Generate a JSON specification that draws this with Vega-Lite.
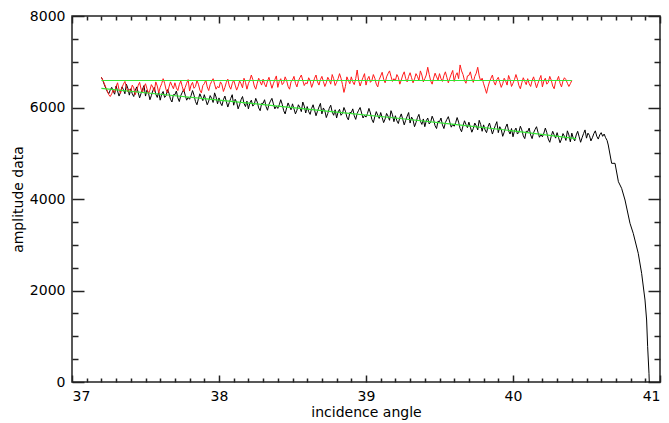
{
  "$schema": "https://vega.github.io/schema/vega-lite/v6.json",
  "width": 588,
  "height": 366,
  "autosize": {"type": "none"},
  "padding": {"left": 72, "top": 16, "right": 9, "bottom": 41},
  "background": "white",
  "config": {"view": {"stroke": "#222222", "strokeWidth": 1.5}},
  "data": {"values": [
      {"series":"black","x":37.20,"y":6660},{"series":"black","x":37.21,"y":6590},{"series":"black","x":37.22,"y":6500},{"series":"black","x":37.23,"y":6420},{"series":"black","x":37.24,"y":6350},{"series":"black","x":37.25,"y":6300},{"series":"black","x":37.26,"y":6380},{"series":"black","x":37.27,"y":6440},{"series":"black","x":37.28,"y":6360},{"series":"black","x":37.29,"y":6290},
      {"series":"black","x":37.30,"y":6470},{"series":"black","x":37.31,"y":6360},{"series":"black","x":37.32,"y":6250},{"series":"black","x":37.33,"y":6330},{"series":"black","x":37.34,"y":6450},{"series":"black","x":37.35,"y":6390},{"series":"black","x":37.36,"y":6300},{"series":"black","x":37.37,"y":6510},{"series":"black","x":37.38,"y":6420},{"series":"black","x":37.39,"y":6270},
      {"series":"black","x":37.40,"y":6410},{"series":"black","x":37.41,"y":6300},{"series":"black","x":37.42,"y":6240},{"series":"black","x":37.43,"y":6370},{"series":"black","x":37.44,"y":6450},{"series":"black","x":37.45,"y":6330},{"series":"black","x":37.46,"y":6210},{"series":"black","x":37.47,"y":6310},{"series":"black","x":37.48,"y":6400},{"series":"black","x":37.49,"y":6480},
      {"series":"black","x":37.50,"y":6250},{"series":"black","x":37.51,"y":6380},{"series":"black","x":37.52,"y":6320},{"series":"black","x":37.53,"y":6170},{"series":"black","x":37.54,"y":6260},{"series":"black","x":37.55,"y":6370},{"series":"black","x":37.56,"y":6440},{"series":"black","x":37.57,"y":6290},{"series":"black","x":37.58,"y":6220},{"series":"black","x":37.59,"y":6340},
      {"series":"black","x":37.60,"y":6160},{"series":"black","x":37.61,"y":6290},{"series":"black","x":37.62,"y":6350},{"series":"black","x":37.63,"y":6220},{"series":"black","x":37.64,"y":6260},{"series":"black","x":37.65,"y":6390},{"series":"black","x":37.66,"y":6310},{"series":"black","x":37.67,"y":6180},{"series":"black","x":37.68,"y":6120},{"series":"black","x":37.69,"y":6280},
      {"series":"black","x":37.70,"y":6280},{"series":"black","x":37.71,"y":6360},{"series":"black","x":37.72,"y":6210},{"series":"black","x":37.73,"y":6130},{"series":"black","x":37.74,"y":6260},{"series":"black","x":37.75,"y":6330},{"series":"black","x":37.76,"y":6390},{"series":"black","x":37.77,"y":6270},{"series":"black","x":37.78,"y":6160},{"series":"black","x":37.79,"y":6220},
      {"series":"black","x":37.80,"y":6180},{"series":"black","x":37.81,"y":6260},{"series":"black","x":37.82,"y":6370},{"series":"black","x":37.83,"y":6270},{"series":"black","x":37.84,"y":6130},{"series":"black","x":37.85,"y":6060},{"series":"black","x":37.86,"y":6190},{"series":"black","x":37.87,"y":6300},{"series":"black","x":37.88,"y":6220},{"series":"black","x":37.89,"y":6150},
      {"series":"black","x":37.90,"y":6280},{"series":"black","x":37.91,"y":6170},{"series":"black","x":37.92,"y":6060},{"series":"black","x":37.93,"y":6140},{"series":"black","x":37.94,"y":6260},{"series":"black","x":37.95,"y":6200},{"series":"black","x":37.96,"y":6110},{"series":"black","x":37.97,"y":6320},{"series":"black","x":37.98,"y":6230},{"series":"black","x":37.99,"y":6080},
      {"series":"black","x":38.00,"y":6210},{"series":"black","x":38.01,"y":6100},{"series":"black","x":38.02,"y":6040},{"series":"black","x":38.03,"y":6170},{"series":"black","x":38.04,"y":6250},{"series":"black","x":38.05,"y":6130},{"series":"black","x":38.06,"y":6010},{"series":"black","x":38.07,"y":6110},{"series":"black","x":38.08,"y":6200},{"series":"black","x":38.09,"y":6280},
      {"series":"black","x":38.10,"y":6050},{"series":"black","x":38.11,"y":6180},{"series":"black","x":38.12,"y":6120},{"series":"black","x":38.13,"y":5970},{"series":"black","x":38.14,"y":6060},{"series":"black","x":38.15,"y":6170},{"series":"black","x":38.16,"y":6240},{"series":"black","x":38.17,"y":6090},{"series":"black","x":38.18,"y":6020},{"series":"black","x":38.19,"y":6140},
      {"series":"black","x":38.20,"y":5970},{"series":"black","x":38.21,"y":6100},{"series":"black","x":38.22,"y":6160},{"series":"black","x":38.23,"y":6030},{"series":"black","x":38.24,"y":6070},{"series":"black","x":38.25,"y":6200},{"series":"black","x":38.26,"y":6120},{"series":"black","x":38.27,"y":5990},{"series":"black","x":38.28,"y":5930},{"series":"black","x":38.29,"y":6090},
      {"series":"black","x":38.30,"y":6090},{"series":"black","x":38.31,"y":6170},{"series":"black","x":38.32,"y":6020},{"series":"black","x":38.33,"y":5940},{"series":"black","x":38.34,"y":6070},{"series":"black","x":38.35,"y":6140},{"series":"black","x":38.36,"y":6200},{"series":"black","x":38.37,"y":6080},{"series":"black","x":38.38,"y":5970},{"series":"black","x":38.39,"y":6030},
      {"series":"black","x":38.40,"y":5980},{"series":"black","x":38.41,"y":6060},{"series":"black","x":38.42,"y":6170},{"series":"black","x":38.43,"y":6070},{"series":"black","x":38.44,"y":5930},{"series":"black","x":38.45,"y":5860},{"series":"black","x":38.46,"y":5990},{"series":"black","x":38.47,"y":6100},{"series":"black","x":38.48,"y":6020},{"series":"black","x":38.49,"y":5950},
      {"series":"black","x":38.50,"y":6080},{"series":"black","x":38.51,"y":5970},{"series":"black","x":38.52,"y":5860},{"series":"black","x":38.53,"y":5940},{"series":"black","x":38.54,"y":6060},{"series":"black","x":38.55,"y":6000},{"series":"black","x":38.56,"y":5910},{"series":"black","x":38.57,"y":6120},{"series":"black","x":38.58,"y":6030},{"series":"black","x":38.59,"y":5880},
      {"series":"black","x":38.60,"y":6020},{"series":"black","x":38.61,"y":5910},{"series":"black","x":38.62,"y":5850},{"series":"black","x":38.63,"y":5980},{"series":"black","x":38.64,"y":6060},{"series":"black","x":38.65,"y":5940},{"series":"black","x":38.66,"y":5820},{"series":"black","x":38.67,"y":5920},{"series":"black","x":38.68,"y":6010},{"series":"black","x":38.69,"y":6090},
      {"series":"black","x":38.70,"y":5860},{"series":"black","x":38.71,"y":5990},{"series":"black","x":38.72,"y":5930},{"series":"black","x":38.73,"y":5780},{"series":"black","x":38.74,"y":5870},{"series":"black","x":38.75,"y":5980},{"series":"black","x":38.76,"y":6050},{"series":"black","x":38.77,"y":5900},{"series":"black","x":38.78,"y":5830},{"series":"black","x":38.79,"y":5950},
      {"series":"black","x":38.80,"y":5770},{"series":"black","x":38.81,"y":5900},{"series":"black","x":38.82,"y":5960},{"series":"black","x":38.83,"y":5830},{"series":"black","x":38.84,"y":5870},{"series":"black","x":38.85,"y":6000},{"series":"black","x":38.86,"y":5920},{"series":"black","x":38.87,"y":5790},{"series":"black","x":38.88,"y":5730},{"series":"black","x":38.89,"y":5890},
      {"series":"black","x":38.90,"y":5890},{"series":"black","x":38.91,"y":5970},{"series":"black","x":38.92,"y":5820},{"series":"black","x":38.93,"y":5740},{"series":"black","x":38.94,"y":5870},{"series":"black","x":38.95,"y":5940},{"series":"black","x":38.96,"y":6000},{"series":"black","x":38.97,"y":5880},{"series":"black","x":38.98,"y":5770},{"series":"black","x":38.99,"y":5830},
      {"series":"black","x":39.00,"y":5790},{"series":"black","x":39.01,"y":5870},{"series":"black","x":39.02,"y":5980},{"series":"black","x":39.03,"y":5880},{"series":"black","x":39.04,"y":5740},{"series":"black","x":39.05,"y":5670},{"series":"black","x":39.06,"y":5800},{"series":"black","x":39.07,"y":5910},{"series":"black","x":39.08,"y":5830},{"series":"black","x":39.09,"y":5760},
      {"series":"black","x":39.10,"y":5890},{"series":"black","x":39.11,"y":5780},{"series":"black","x":39.12,"y":5670},{"series":"black","x":39.13,"y":5750},{"series":"black","x":39.14,"y":5870},{"series":"black","x":39.15,"y":5810},{"series":"black","x":39.16,"y":5720},{"series":"black","x":39.17,"y":5930},{"series":"black","x":39.18,"y":5840},{"series":"black","x":39.19,"y":5690},
      {"series":"black","x":39.20,"y":5820},{"series":"black","x":39.21,"y":5710},{"series":"black","x":39.22,"y":5650},{"series":"black","x":39.23,"y":5780},{"series":"black","x":39.24,"y":5860},{"series":"black","x":39.25,"y":5740},{"series":"black","x":39.26,"y":5620},{"series":"black","x":39.27,"y":5720},{"series":"black","x":39.28,"y":5810},{"series":"black","x":39.29,"y":5890},
      {"series":"black","x":39.30,"y":5660},{"series":"black","x":39.31,"y":5790},{"series":"black","x":39.32,"y":5730},{"series":"black","x":39.33,"y":5580},{"series":"black","x":39.34,"y":5670},{"series":"black","x":39.35,"y":5780},{"series":"black","x":39.36,"y":5850},{"series":"black","x":39.37,"y":5700},{"series":"black","x":39.38,"y":5630},{"series":"black","x":39.39,"y":5750},
      {"series":"black","x":39.40,"y":5580},{"series":"black","x":39.41,"y":5710},{"series":"black","x":39.42,"y":5770},{"series":"black","x":39.43,"y":5640},{"series":"black","x":39.44,"y":5680},{"series":"black","x":39.45,"y":5810},{"series":"black","x":39.46,"y":5730},{"series":"black","x":39.47,"y":5600},{"series":"black","x":39.48,"y":5540},{"series":"black","x":39.49,"y":5700},
      {"series":"black","x":39.50,"y":5690},{"series":"black","x":39.51,"y":5770},{"series":"black","x":39.52,"y":5620},{"series":"black","x":39.53,"y":5540},{"series":"black","x":39.54,"y":5670},{"series":"black","x":39.55,"y":5740},{"series":"black","x":39.56,"y":5800},{"series":"black","x":39.57,"y":5680},{"series":"black","x":39.58,"y":5570},{"series":"black","x":39.59,"y":5630},
      {"series":"black","x":39.60,"y":5590},{"series":"black","x":39.61,"y":5670},{"series":"black","x":39.62,"y":5780},{"series":"black","x":39.63,"y":5680},{"series":"black","x":39.64,"y":5540},{"series":"black","x":39.65,"y":5470},{"series":"black","x":39.66,"y":5600},{"series":"black","x":39.67,"y":5710},{"series":"black","x":39.68,"y":5630},{"series":"black","x":39.69,"y":5560},
      {"series":"black","x":39.70,"y":5680},{"series":"black","x":39.71,"y":5570},{"series":"black","x":39.72,"y":5460},{"series":"black","x":39.73,"y":5540},{"series":"black","x":39.74,"y":5660},{"series":"black","x":39.75,"y":5600},{"series":"black","x":39.76,"y":5510},{"series":"black","x":39.77,"y":5720},{"series":"black","x":39.78,"y":5630},{"series":"black","x":39.79,"y":5480},
      {"series":"black","x":39.80,"y":5620},{"series":"black","x":39.81,"y":5510},{"series":"black","x":39.82,"y":5450},{"series":"black","x":39.83,"y":5580},{"series":"black","x":39.84,"y":5660},{"series":"black","x":39.85,"y":5540},{"series":"black","x":39.86,"y":5420},{"series":"black","x":39.87,"y":5520},{"series":"black","x":39.88,"y":5610},{"series":"black","x":39.89,"y":5690},
      {"series":"black","x":39.90,"y":5450},{"series":"black","x":39.91,"y":5580},{"series":"black","x":39.92,"y":5520},{"series":"black","x":39.93,"y":5370},{"series":"black","x":39.94,"y":5460},{"series":"black","x":39.95,"y":5570},{"series":"black","x":39.96,"y":5640},{"series":"black","x":39.97,"y":5490},{"series":"black","x":39.98,"y":5420},{"series":"black","x":39.99,"y":5540},
      {"series":"black","x":40.00,"y":5360},{"series":"black","x":40.01,"y":5490},{"series":"black","x":40.02,"y":5550},{"series":"black","x":40.03,"y":5420},{"series":"black","x":40.04,"y":5460},{"series":"black","x":40.05,"y":5590},{"series":"black","x":40.06,"y":5510},{"series":"black","x":40.07,"y":5380},{"series":"black","x":40.08,"y":5320},{"series":"black","x":40.09,"y":5480},
      {"series":"black","x":40.10,"y":5470},{"series":"black","x":40.11,"y":5550},{"series":"black","x":40.12,"y":5400},{"series":"black","x":40.13,"y":5320},{"series":"black","x":40.14,"y":5450},{"series":"black","x":40.15,"y":5520},{"series":"black","x":40.16,"y":5580},{"series":"black","x":40.17,"y":5460},{"series":"black","x":40.18,"y":5350},{"series":"black","x":40.19,"y":5410},
      {"series":"black","x":40.20,"y":5360},{"series":"black","x":40.21,"y":5440},{"series":"black","x":40.22,"y":5550},{"series":"black","x":40.23,"y":5450},{"series":"black","x":40.24,"y":5310},{"series":"black","x":40.25,"y":5240},{"series":"black","x":40.26,"y":5370},{"series":"black","x":40.27,"y":5480},{"series":"black","x":40.28,"y":5400},{"series":"black","x":40.29,"y":5330},
      {"series":"black","x":40.30,"y":5450},{"series":"black","x":40.31,"y":5340},{"series":"black","x":40.32,"y":5230},{"series":"black","x":40.33,"y":5310},{"series":"black","x":40.34,"y":5430},{"series":"black","x":40.35,"y":5370},{"series":"black","x":40.36,"y":5280},{"series":"black","x":40.37,"y":5490},{"series":"black","x":40.38,"y":5400},{"series":"black","x":40.39,"y":5250},
      {"series":"black","x":40.40,"y":5440},{"series":"black","x":40.41,"y":5330},{"series":"black","x":40.42,"y":5270},{"series":"black","x":40.43,"y":5400},{"series":"black","x":40.44,"y":5480},{"series":"black","x":40.45,"y":5360},{"series":"black","x":40.46,"y":5240},{"series":"black","x":40.47,"y":5340},{"series":"black","x":40.48,"y":5430},{"series":"black","x":40.49,"y":5510},
      {"series":"black","x":40.50,"y":5330},{"series":"black","x":40.51,"y":5440},{"series":"black","x":40.52,"y":5390},{"series":"black","x":40.53,"y":5270},{"series":"black","x":40.54,"y":5340},{"series":"black","x":40.55,"y":5430},{"series":"black","x":40.56,"y":5490},{"series":"black","x":40.57,"y":5370},{"series":"black","x":40.58,"y":5310},{"series":"black","x":40.59,"y":5400},
      {"series":"black","x":40.60,"y":5450},{"series":"black","x":40.61,"y":5370},{"series":"black","x":40.62,"y":5420},{"series":"black","x":40.63,"y":5340},{"series":"black","x":40.64,"y":5280},
      {"series":"black","x":40.648,"y":5180},{"series":"black","x":40.671,"y":4780},{"series":"black","x":40.694,"y":4780},{"series":"black","x":40.717,"y":4378},{"series":"black","x":40.739,"y":4233},{"series":"black","x":40.762,"y":3978},{"series":"black","x":40.796,"y":3468},
      {"series":"black","x":40.818,"y":3250},{"series":"black","x":40.852,"y":2813},{"series":"black","x":40.875,"y":2376},{"series":"black","x":40.898,"y":1792},{"series":"black","x":40.909,"y":1355},{"series":"black","x":40.916,"y":772},{"series":"black","x":40.925,"y":190},{"series":"black","x":40.927,"y":0},
      {"series":"red","x":37.20,"y":6660},{"series":"red","x":37.21,"y":6600},{"series":"red","x":37.22,"y":6520},{"series":"red","x":37.23,"y":6440},{"series":"red","x":37.24,"y":6360},{"series":"red","x":37.25,"y":6280},{"series":"red","x":37.26,"y":6240},{"series":"red","x":37.27,"y":6300},{"series":"red","x":37.28,"y":6380},{"series":"red","x":37.29,"y":6330},
      {"series":"red","x":37.30,"y":6460},{"series":"red","x":37.31,"y":6540},{"series":"red","x":37.32,"y":6390},{"series":"red","x":37.33,"y":6310},{"series":"red","x":37.34,"y":6440},{"series":"red","x":37.35,"y":6510},{"series":"red","x":37.36,"y":6570},{"series":"red","x":37.37,"y":6450},{"series":"red","x":37.38,"y":6340},{"series":"red","x":37.39,"y":6400},
      {"series":"red","x":37.40,"y":6360},{"series":"red","x":37.41,"y":6490},{"series":"red","x":37.42,"y":6430},{"series":"red","x":37.43,"y":6280},{"series":"red","x":37.44,"y":6370},{"series":"red","x":37.45,"y":6480},{"series":"red","x":37.46,"y":6550},{"series":"red","x":37.47,"y":6400},{"series":"red","x":37.48,"y":6330},{"series":"red","x":37.49,"y":6450},
      {"series":"red","x":37.50,"y":6520},{"series":"red","x":37.51,"y":6410},{"series":"red","x":37.52,"y":6300},{"series":"red","x":37.53,"y":6380},{"series":"red","x":37.54,"y":6500},{"series":"red","x":37.55,"y":6440},{"series":"red","x":37.56,"y":6350},{"series":"red","x":37.57,"y":6560},{"series":"red","x":37.58,"y":6470},{"series":"red","x":37.59,"y":6320},
      {"series":"red","x":37.60,"y":6440},{"series":"red","x":37.61,"y":6520},{"series":"red","x":37.62,"y":6630},{"series":"red","x":37.63,"y":6530},{"series":"red","x":37.64,"y":6390},{"series":"red","x":37.65,"y":6320},{"series":"red","x":37.66,"y":6450},{"series":"red","x":37.67,"y":6560},{"series":"red","x":37.68,"y":6480},{"series":"red","x":37.69,"y":6410},
      {"series":"red","x":37.70,"y":6540},{"series":"red","x":37.71,"y":6430},{"series":"red","x":37.72,"y":6370},{"series":"red","x":37.73,"y":6500},{"series":"red","x":37.74,"y":6580},{"series":"red","x":37.75,"y":6460},{"series":"red","x":37.76,"y":6340},{"series":"red","x":37.77,"y":6440},{"series":"red","x":37.78,"y":6530},{"series":"red","x":37.79,"y":6610},
      {"series":"red","x":37.80,"y":6360},{"series":"red","x":37.81,"y":6490},{"series":"red","x":37.82,"y":6550},{"series":"red","x":37.83,"y":6420},{"series":"red","x":37.84,"y":6460},{"series":"red","x":37.85,"y":6590},{"series":"red","x":37.86,"y":6510},{"series":"red","x":37.87,"y":6380},{"series":"red","x":37.88,"y":6320},{"series":"red","x":37.89,"y":6480},
      {"series":"red","x":37.90,"y":6520},{"series":"red","x":37.91,"y":6600},{"series":"red","x":37.92,"y":6450},{"series":"red","x":37.93,"y":6370},{"series":"red","x":37.94,"y":6500},{"series":"red","x":37.95,"y":6570},{"series":"red","x":37.96,"y":6630},{"series":"red","x":37.97,"y":6510},{"series":"red","x":37.98,"y":6400},{"series":"red","x":37.99,"y":6460},
      {"series":"red","x":38.00,"y":6430},{"series":"red","x":38.01,"y":6560},{"series":"red","x":38.02,"y":6500},{"series":"red","x":38.03,"y":6350},{"series":"red","x":38.04,"y":6440},{"series":"red","x":38.05,"y":6550},{"series":"red","x":38.06,"y":6620},{"series":"red","x":38.07,"y":6470},{"series":"red","x":38.08,"y":6400},{"series":"red","x":38.09,"y":6520},
      {"series":"red","x":38.10,"y":6600},{"series":"red","x":38.11,"y":6490},{"series":"red","x":38.12,"y":6380},{"series":"red","x":38.13,"y":6460},{"series":"red","x":38.14,"y":6580},{"series":"red","x":38.15,"y":6520},{"series":"red","x":38.16,"y":6430},{"series":"red","x":38.17,"y":6640},{"series":"red","x":38.18,"y":6550},{"series":"red","x":38.19,"y":6400},
      {"series":"red","x":38.20,"y":6520},{"series":"red","x":38.21,"y":6600},{"series":"red","x":38.22,"y":6710},{"series":"red","x":38.23,"y":6610},{"series":"red","x":38.24,"y":6470},{"series":"red","x":38.25,"y":6400},{"series":"red","x":38.26,"y":6530},{"series":"red","x":38.27,"y":6640},{"series":"red","x":38.28,"y":6560},{"series":"red","x":38.29,"y":6490},
      {"series":"red","x":38.30,"y":6620},{"series":"red","x":38.31,"y":6510},{"series":"red","x":38.32,"y":6450},{"series":"red","x":38.33,"y":6580},{"series":"red","x":38.34,"y":6660},{"series":"red","x":38.35,"y":6540},{"series":"red","x":38.36,"y":6420},{"series":"red","x":38.37,"y":6520},{"series":"red","x":38.38,"y":6610},{"series":"red","x":38.39,"y":6690},
      {"series":"red","x":38.40,"y":6440},{"series":"red","x":38.41,"y":6570},{"series":"red","x":38.42,"y":6630},{"series":"red","x":38.43,"y":6500},{"series":"red","x":38.44,"y":6540},{"series":"red","x":38.45,"y":6670},{"series":"red","x":38.46,"y":6590},{"series":"red","x":38.47,"y":6460},{"series":"red","x":38.48,"y":6400},{"series":"red","x":38.49,"y":6560},
      {"series":"red","x":38.50,"y":6600},{"series":"red","x":38.51,"y":6680},{"series":"red","x":38.52,"y":6530},{"series":"red","x":38.53,"y":6450},{"series":"red","x":38.54,"y":6580},{"series":"red","x":38.55,"y":6650},{"series":"red","x":38.56,"y":6710},{"series":"red","x":38.57,"y":6590},{"series":"red","x":38.58,"y":6480},{"series":"red","x":38.59,"y":6540},
      {"series":"red","x":38.60,"y":6520},{"series":"red","x":38.61,"y":6650},{"series":"red","x":38.62,"y":6590},{"series":"red","x":38.63,"y":6440},{"series":"red","x":38.64,"y":6530},{"series":"red","x":38.65,"y":6640},{"series":"red","x":38.66,"y":6710},{"series":"red","x":38.67,"y":6560},{"series":"red","x":38.68,"y":6490},{"series":"red","x":38.69,"y":6610},
      {"series":"red","x":38.70,"y":6680},{"series":"red","x":38.71,"y":6570},{"series":"red","x":38.72,"y":6460},{"series":"red","x":38.73,"y":6540},{"series":"red","x":38.74,"y":6660},{"series":"red","x":38.75,"y":6600},{"series":"red","x":38.76,"y":6510},{"series":"red","x":38.77,"y":6720},{"series":"red","x":38.78,"y":6630},{"series":"red","x":38.79,"y":6480},
      {"series":"red","x":38.80,"y":6550},{"series":"red","x":38.81,"y":6630},{"series":"red","x":38.82,"y":6740},{"series":"red","x":38.83,"y":6640},{"series":"red","x":38.84,"y":6500},{"series":"red","x":38.85,"y":6330},{"series":"red","x":38.86,"y":6460},{"series":"red","x":38.87,"y":6670},{"series":"red","x":38.88,"y":6590},{"series":"red","x":38.89,"y":6520},
      {"series":"red","x":38.90,"y":6670},{"series":"red","x":38.91,"y":6560},{"series":"red","x":38.92,"y":6500},{"series":"red","x":38.93,"y":6630},{"series":"red","x":38.94,"y":6820},{"series":"red","x":38.95,"y":6590},{"series":"red","x":38.96,"y":6470},{"series":"red","x":38.97,"y":6570},{"series":"red","x":38.98,"y":6660},{"series":"red","x":38.99,"y":6740},
      {"series":"red","x":39.00,"y":6490},{"series":"red","x":39.01,"y":6620},{"series":"red","x":39.02,"y":6680},{"series":"red","x":39.03,"y":6550},{"series":"red","x":39.04,"y":6590},{"series":"red","x":39.05,"y":6720},{"series":"red","x":39.06,"y":6640},{"series":"red","x":39.07,"y":6510},{"series":"red","x":39.08,"y":6450},{"series":"red","x":39.09,"y":6610},
      {"series":"red","x":39.10,"y":6690},{"series":"red","x":39.11,"y":6770},{"series":"red","x":39.12,"y":6620},{"series":"red","x":39.13,"y":6540},{"series":"red","x":39.14,"y":6670},{"series":"red","x":39.15,"y":6740},{"series":"red","x":39.16,"y":6800},{"series":"red","x":39.17,"y":6680},{"series":"red","x":39.18,"y":6570},{"series":"red","x":39.19,"y":6630},
      {"series":"red","x":39.20,"y":6590},{"series":"red","x":39.21,"y":6720},{"series":"red","x":39.22,"y":6660},{"series":"red","x":39.23,"y":6510},{"series":"red","x":39.24,"y":6600},{"series":"red","x":39.25,"y":6710},{"series":"red","x":39.26,"y":6780},{"series":"red","x":39.27,"y":6630},{"series":"red","x":39.28,"y":6560},{"series":"red","x":39.29,"y":6680},
      {"series":"red","x":39.30,"y":6760},{"series":"red","x":39.31,"y":6650},{"series":"red","x":39.32,"y":6540},{"series":"red","x":39.33,"y":6620},{"series":"red","x":39.34,"y":6740},{"series":"red","x":39.35,"y":6680},{"series":"red","x":39.36,"y":6590},{"series":"red","x":39.37,"y":6800},{"series":"red","x":39.38,"y":6710},{"series":"red","x":39.39,"y":6560},
      {"series":"red","x":39.40,"y":6630},{"series":"red","x":39.41,"y":6710},{"series":"red","x":39.42,"y":6880},{"series":"red","x":39.43,"y":6720},{"series":"red","x":39.44,"y":6580},{"series":"red","x":39.45,"y":6510},{"series":"red","x":39.46,"y":6640},{"series":"red","x":39.47,"y":6750},{"series":"red","x":39.48,"y":6670},{"series":"red","x":39.49,"y":6600},
      {"series":"red","x":39.50,"y":6740},{"series":"red","x":39.51,"y":6630},{"series":"red","x":39.52,"y":6570},{"series":"red","x":39.53,"y":6700},{"series":"red","x":39.54,"y":6780},{"series":"red","x":39.55,"y":6660},{"series":"red","x":39.56,"y":6540},{"series":"red","x":39.57,"y":6640},{"series":"red","x":39.58,"y":6730},{"series":"red","x":39.59,"y":6810},
      {"series":"red","x":39.60,"y":6570},{"series":"red","x":39.61,"y":6700},{"series":"red","x":39.62,"y":6760},{"series":"red","x":39.63,"y":6630},{"series":"red","x":39.64,"y":6930},{"series":"red","x":39.65,"y":6800},{"series":"red","x":39.66,"y":6720},{"series":"red","x":39.67,"y":6590},{"series":"red","x":39.68,"y":6530},{"series":"red","x":39.69,"y":6690},
      {"series":"red","x":39.70,"y":6700},{"series":"red","x":39.71,"y":6780},{"series":"red","x":39.72,"y":6630},{"series":"red","x":39.73,"y":6550},{"series":"red","x":39.74,"y":6680},{"series":"red","x":39.75,"y":6750},{"series":"red","x":39.76,"y":6880},{"series":"red","x":39.77,"y":6690},{"series":"red","x":39.78,"y":6580},{"series":"red","x":39.79,"y":6640},
      {"series":"red","x":39.80,"y":6520},{"series":"red","x":39.81,"y":6420},{"series":"red","x":39.82,"y":6310},{"series":"red","x":39.83,"y":6450},{"series":"red","x":39.84,"y":6560},{"series":"red","x":39.85,"y":6640},{"series":"red","x":39.86,"y":6710},{"series":"red","x":39.87,"y":6560},{"series":"red","x":39.88,"y":6490},{"series":"red","x":39.89,"y":6610},
      {"series":"red","x":39.90,"y":6660},{"series":"red","x":39.91,"y":6550},{"series":"red","x":39.92,"y":6440},{"series":"red","x":39.93,"y":6520},{"series":"red","x":39.94,"y":6640},{"series":"red","x":39.95,"y":6580},{"series":"red","x":39.96,"y":6490},{"series":"red","x":39.97,"y":6700},{"series":"red","x":39.98,"y":6610},{"series":"red","x":39.99,"y":6460},
      {"series":"red","x":40.00,"y":6530},{"series":"red","x":40.01,"y":6610},{"series":"red","x":40.02,"y":6720},{"series":"red","x":40.03,"y":6620},{"series":"red","x":40.04,"y":6480},{"series":"red","x":40.05,"y":6410},{"series":"red","x":40.06,"y":6540},{"series":"red","x":40.07,"y":6650},{"series":"red","x":40.08,"y":6570},{"series":"red","x":40.09,"y":6500},
      {"series":"red","x":40.10,"y":6630},{"series":"red","x":40.11,"y":6520},{"series":"red","x":40.12,"y":6460},{"series":"red","x":40.13,"y":6590},{"series":"red","x":40.14,"y":6670},{"series":"red","x":40.15,"y":6550},{"series":"red","x":40.16,"y":6430},{"series":"red","x":40.17,"y":6530},{"series":"red","x":40.18,"y":6620},{"series":"red","x":40.19,"y":6700},
      {"series":"red","x":40.20,"y":6450},{"series":"red","x":40.21,"y":6580},{"series":"red","x":40.22,"y":6640},{"series":"red","x":40.23,"y":6510},{"series":"red","x":40.24,"y":6550},{"series":"red","x":40.25,"y":6680},{"series":"red","x":40.26,"y":6600},{"series":"red","x":40.27,"y":6470},{"series":"red","x":40.28,"y":6410},{"series":"red","x":40.29,"y":6570},
      {"series":"red","x":40.30,"y":6600},{"series":"red","x":40.31,"y":6680},{"series":"red","x":40.32,"y":6530},{"series":"red","x":40.33,"y":6450},{"series":"red","x":40.34,"y":6580},{"series":"red","x":40.35,"y":6650},{"series":"red","x":40.36,"y":6610},{"series":"red","x":40.37,"y":6530},{"series":"red","x":40.38,"y":6460},{"series":"red","x":40.39,"y":6520},
      {"series":"red","x":40.40,"y":6590},
      {"series":"flat","x":37.2,"y":6590},{"series":"flat","x":40.4,"y":6590},
      {"series":"slope","x":37.2,"y":6420},{"series":"slope","x":37.6,"y":6290},{"series":"slope","x":38.0,"y":6160},{"series":"slope","x":38.4,"y":6030},{"series":"slope","x":38.8,"y":5900},{"series":"slope","x":39.2,"y":5770},{"series":"slope","x":39.6,"y":5630},{"series":"slope","x":40.0,"y":5490},{"series":"slope","x":40.43,"y":5320}
  ]},
  "resolve": {"axis": {"x": "independent", "y": "independent"}},
  "layer": [
    {
      "transform": [{"filter": "datum.series === 'black'"}],
      "mark": {"type": "line", "color": "#000000", "strokeWidth": 1},
      "encoding": {
        "x": {"field": "x", "type": "quantitative",
              "scale": {"domain": [37, 41], "nice": false, "zero": false},
              "axis": {"orient": "bottom", "grid": true, "gridOpacity": 0, "domain": false, "values": [37, 38, 39, 40, 41], "format": "d", "tickColor": "#222222", "tickWidth": 1.5, "tickSize": 7, "offset": -7, "labelPadding": 7, "labelFont": "DejaVu Sans", "labelFontSize": 14, "labelColor": "black", "title": "incidence angle", "titleFont": "DejaVu Sans", "titleFontSize": 14, "titleFontWeight": "normal", "titleColor": "black", "titlePadding": 2}},
        "y": {"field": "y", "type": "quantitative",
              "scale": {"domain": [0, 8000], "nice": false},
              "axis": {"orient": "left", "grid": true, "gridOpacity": 0, "domain": false, "values": [0, 2000, 4000, 6000, 8000], "format": "d", "tickColor": "#222222", "tickWidth": 1.5, "tickSize": 12, "offset": -12, "labelPadding": 7, "labelFont": "DejaVu Sans", "labelFontSize": 14, "labelColor": "black", "title": "amplitude data", "titleFont": "DejaVu Sans", "titleFontSize": 14, "titleFontWeight": "normal", "titleColor": "black", "titlePadding": 4}}
      }
    },
    {
      "transform": [{"filter": "datum.series === 'red'"}],
      "mark": {"type": "line", "color": "#ff1a1a", "strokeWidth": 1},
      "encoding": {
        "x": {"field": "x", "type": "quantitative",
              "scale": {"domain": [37, 41], "nice": false, "zero": false},
              "axis": {"orient": "bottom", "grid": true, "gridOpacity": 0, "domain": false, "values": [37.1,37.2,37.3,37.4,37.5,37.6,37.7,37.8,37.9,38.1,38.2,38.3,38.4,38.5,38.6,38.7,38.8,38.9,39.1,39.2,39.3,39.4,39.5,39.6,39.7,39.8,39.9,40.1,40.2,40.3,40.4,40.5,40.6,40.7,40.8,40.9], "tickColor": "#222222", "tickWidth": 1.5, "tickSize": 4, "offset": -4, "labels": false, "title": null}},
        "y": {"field": "y", "type": "quantitative",
              "scale": {"domain": [0, 8000], "nice": false},
              "axis": {"orient": "left", "grid": true, "gridOpacity": 0, "domain": false, "values": [500,1000,1500,2500,3000,3500,4500,5000,5500,6500,7000,7500], "tickColor": "#222222", "tickWidth": 1.5, "tickSize": 6, "offset": -6, "labels": false, "title": null}}
      }
    },
    {
      "transform": [{"filter": "datum.series === 'flat'"}],
      "mark": {"type": "line", "color": "#33e633", "strokeWidth": 1.2},
      "encoding": {
        "x": {"field": "x", "type": "quantitative",
              "scale": {"domain": [37, 41], "nice": false, "zero": false},
              "axis": {"orient": "top", "grid": true, "gridOpacity": 0, "domain": false, "values": [37, 38, 39, 40, 41], "tickColor": "#222222", "tickWidth": 1.5, "tickSize": 7, "offset": -7, "labels": false, "title": null}},
        "y": {"field": "y", "type": "quantitative",
              "scale": {"domain": [0, 8000], "nice": false},
              "axis": {"orient": "right", "grid": true, "gridOpacity": 0, "domain": false, "values": [0, 2000, 4000, 6000, 8000], "tickColor": "#222222", "tickWidth": 1.5, "tickSize": 12, "offset": -12, "labels": false, "title": null}}
      }
    },
    {
      "transform": [{"filter": "datum.series === 'slope'"}],
      "mark": {"type": "line", "color": "#33e633", "strokeWidth": 1.2},
      "encoding": {
        "x": {"field": "x", "type": "quantitative",
              "scale": {"domain": [37, 41], "nice": false, "zero": false},
              "axis": {"orient": "top", "grid": true, "gridOpacity": 0, "domain": false, "values": [37.1,37.2,37.3,37.4,37.5,37.6,37.7,37.8,37.9,38.1,38.2,38.3,38.4,38.5,38.6,38.7,38.8,38.9,39.1,39.2,39.3,39.4,39.5,39.6,39.7,39.8,39.9,40.1,40.2,40.3,40.4,40.5,40.6,40.7,40.8,40.9], "tickColor": "#222222", "tickWidth": 1.5, "tickSize": 4, "offset": -4, "labels": false, "title": null}},
        "y": {"field": "y", "type": "quantitative",
              "scale": {"domain": [0, 8000], "nice": false},
              "axis": {"orient": "right", "grid": true, "gridOpacity": 0, "domain": false, "values": [500,1000,1500,2500,3000,3500,4500,5000,5500,6500,7000,7500], "tickColor": "#222222", "tickWidth": 1.5, "tickSize": 6, "offset": -6, "labels": false, "title": null}}
      }
    }
  ]
}
